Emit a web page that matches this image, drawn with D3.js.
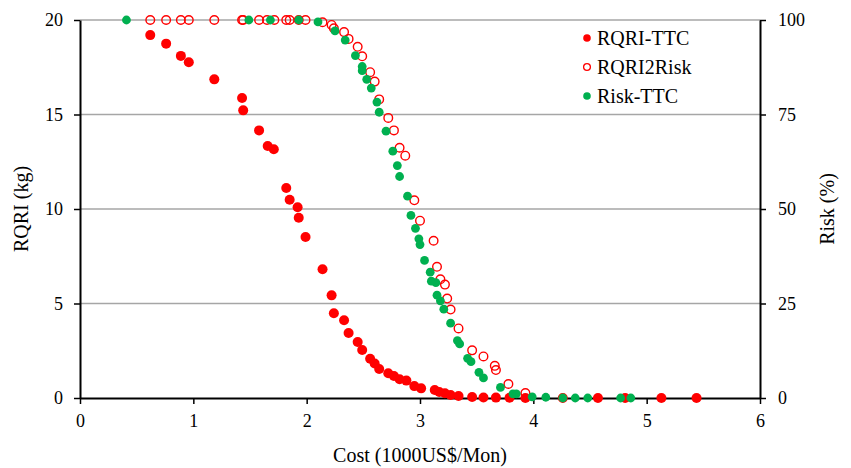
<!DOCTYPE html>
<html>
<head>
<meta charset="utf-8">
<script src="https://cdn.jsdelivr.net/npm/d3@7/dist/d3.min.js"></script>
<style>
  body { margin: 0; background: #fff; }
  svg text { font-family: "Liberation Serif", "Times New Roman", serif; fill: #000; }
</style>
</head>
<body>
<svg id="chart"></svg>
<script>
// data: [cost (1000US$/Mon), value]
const costTicks = [0, 1, 2, 3, 4, 5, 6];
const rqriTicks = [0, 5, 10, 15, 20];
const riskTicks = [0, 25, 50, 75, 100];

// RQRI-TTC, left axis (kg)
const rqriTTC = [[0.62,19.2],[0.76,18.75],[0.89,18.1],[0.96,17.76],[1.185,16.86],[1.43,15.87],[1.44,15.22],
  [1.58,14.16],[1.656,13.33],[1.71,13.16],[1.82,11.11],[1.85,10.49],[1.92,10.09],[1.93,9.54],[1.99,8.52],
  [2.14,6.81],[2.22,5.43],[2.24,4.48],[2.33,4.11],[2.37,3.44],[2.45,2.96],[2.49,2.54],[2.56,2.08],[2.6,1.83],
  [2.64,1.53],[2.72,1.31],[2.77,1.16],[2.82,0.99],[2.88,0.92],[2.95,0.63],[3.01,0.51],[3.13,0.42],[3.17,0.32],
  [3.22,0.25],[3.27,0.16],[3.34,0.11],[3.46,0.05],[3.56,0.03],[3.67,0.02],[3.79,0.01],[3.93,0],[4.57,0],
  [4.81,0],[5.13,0],[5.44,0]];

// RQRI2Risk, right axis (%)
const rqri2Risk = [[0.62,100],[0.76,100],[0.89,100],[0.96,100],[1.185,100],[1.43,100],[1.44,100],[1.58,100],
  [1.65,100],[1.715,100],[1.82,100],[1.85,100],[1.93,100],[1.99,100],[2.14,99.4],[2.22,98.7],[2.24,97.8],
  [2.33,96.8],[2.37,95.0],[2.45,92.9],[2.49,90.4],[2.56,86.2],[2.6,83.7],[2.64,79.0],[2.72,74.1],[2.77,70.8],
  [2.82,66.2],[2.87,64.1],[2.95,52.3],[3.0,46.9],[3.12,41.6],[3.15,34.7],[3.18,31.4],[3.22,30.0],[3.24,26.3],
  [3.27,23.4],[3.34,18.4],[3.46,12.6],[3.56,11.0],[3.66,8.5],[3.67,7.4],[3.78,3.7],[3.93,1.3],[4.26,0]];

// Risk-TTC, right axis (%)
const riskTTC = [[0.41,100],[1.49,100],[1.68,100],[1.93,100],[2.10,99.5],[2.25,97.1],[2.34,94.7],[2.43,90.6],
  [2.49,87.7],[2.49,86.6],[2.53,84.3],[2.57,82.0],[2.62,78.3],[2.64,75.6],[2.70,70.6],[2.76,65.3],[2.80,61.5],
  [2.82,58.6],[2.89,53.4],[2.92,48.3],[2.96,44.9],[2.99,42.1],[3.0,40.6],[3.04,36.4],[3.09,33.3],[3.10,30.9],
  [3.14,30.5],[3.15,27.2],[3.18,25.7],[3.21,23.5],[3.27,19.8],[3.33,15.2],[3.35,14.3],[3.42,10.5],[3.45,9.6],
  [3.52,6.8],[3.56,5.3],[3.71,2.8],[3.82,1.1],[3.85,1.1],[3.99,0.3],[4.11,0.2],[4.26,0],[4.37,0],[4.48,0],
  [4.77,0],[4.86,0]];

const legendItems = ['RQRI-TTC', 'RQRI2Risk', 'Risk-TTC'];

const width = 851;
const height = 468;
const margin = { top: 20, right: 91, bottom: 70, left: 80 };
const red = '#ff0000';
const green = '#00b050';
const serif = '"Liberation Serif", "Times New Roman", serif';

const svg = d3.select('#chart')
  .attr('width', width)
  .attr('height', height);

const x = d3.scaleLinear().domain([0, 6]).range([margin.left, width - margin.right]);
const yL = d3.scaleLinear().domain([0, 20]).range([height - margin.bottom, margin.top]);
const yR = d3.scaleLinear().domain([0, 100]).range([height - margin.bottom, margin.top]);

// gridlines
svg.append('g')
  .selectAll('line')
  .data(rqriTicks.filter(d => d > 0))
  .enter()
  .append('line')
  .attr('x1', x(0))
  .attr('x2', x(6))
  .attr('y1', d => yL(d))
  .attr('y2', d => yL(d))
  .attr('stroke', '#a6a6a6')
  .attr('stroke-width', 1.5);

// axes
function styleAxis(g) {
  g.attr('font-family', serif).attr('font-size', 18);
  g.select('.domain').attr('stroke', '#000').attr('stroke-width', 2);
  g.selectAll('.tick line').attr('stroke', '#000').attr('stroke-width', 1.5);
  g.selectAll('.tick text').style('font-family', serif).style('font-size', '18px');
}

svg.append('g')
  .attr('transform', `translate(0,${yL(0)})`)
  .call(d3.axisBottom(x).tickValues(costTicks).tickFormat(d3.format('d'))
    .tickSize(6).tickSizeOuter(0).tickPadding(10))
  .call(styleAxis);

svg.append('g')
  .attr('transform', `translate(${x(0)},0)`)
  .call(d3.axisLeft(yL).tickValues(rqriTicks).tickFormat(d3.format('d'))
    .tickSize(6).tickSizeOuter(0).tickPadding(11))
  .call(styleAxis);

svg.append('g')
  .attr('transform', `translate(${x(6)},0)`)
  .call(d3.axisRight(yR).tickValues(riskTicks).tickFormat(d3.format('d'))
    .tickSize(6).tickSizeOuter(0).tickPadding(12))
  .call(styleAxis);

// axis titles
svg.append('text')
  .attr('transform', `translate(28,${(yL(0) + yL(20)) / 2}) rotate(-90)`)
  .attr('text-anchor', 'middle')
  .style('font-size', '20px')
  .text('RQRI (kg)');

svg.append('text')
  .attr('transform', `translate(834,${(yL(0) + yL(20)) / 2}) rotate(-90)`)
  .attr('text-anchor', 'middle')
  .style('font-size', '20px')
  .text('Risk (%)');

svg.append('text')
  .attr('x', (x(0) + x(6)) / 2)
  .attr('y', 462)
  .attr('text-anchor', 'middle')
  .style('font-size', '20px')
  .text('Cost (1000US$/Mon)');

// series
svg.append('g')
  .selectAll('circle')
  .data(rqriTTC)
  .enter()
  .append('circle')
  .attr('cx', d => x(d[0]))
  .attr('cy', d => yL(d[1]))
  .attr('r', 5)
  .attr('fill', red);

svg.append('g')
  .selectAll('circle')
  .data(rqri2Risk)
  .enter()
  .append('circle')
  .attr('cx', d => x(d[0]))
  .attr('cy', d => yR(d[1]))
  .attr('r', 4.3)
  .attr('fill', 'none')
  .attr('stroke', red)
  .attr('stroke-width', 1.4);

svg.append('g')
  .selectAll('circle')
  .data(riskTTC)
  .enter()
  .append('circle')
  .attr('cx', d => x(d[0]))
  .attr('cy', d => yR(d[1]))
  .attr('r', 4.4)
  .attr('fill', green);

// legend
const legend = svg.append('g').attr('transform', 'translate(587,38)');
const rows = legend.selectAll('g')
  .data(legendItems)
  .enter()
  .append('g')
  .attr('transform', (d, i) => `translate(0,${i * 29})`);

rows.append('circle')
  .attr('r', d => d === 'RQRI2Risk' ? 3.4 : 3.8)
  .attr('fill', d => d === 'RQRI2Risk' ? 'none' : (d === 'RQRI-TTC' ? red : green))
  .attr('stroke', d => d === 'RQRI2Risk' ? red : 'none')
  .attr('stroke-width', 1.3);

rows.append('text')
  .attr('x', 10)
  .attr('dy', '0.35em')
  .style('font-size', '20px')
  .text(d => d);
</script>
</body>
</html>
